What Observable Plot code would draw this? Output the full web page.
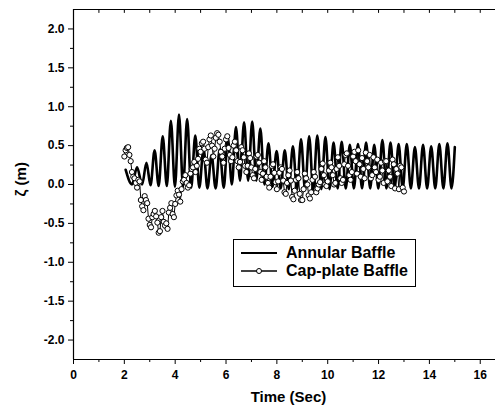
<!DOCTYPE html>
<html><head><meta charset="utf-8">
<script src="https://cdn.jsdelivr.net/npm/d3@7"></script>
<script src="https://cdn.jsdelivr.net/npm/@observablehq/plot@0.6"></script>
<style>body{margin:0;background:#fff}#chart{width:497px;height:412px}</style>
</head><body><div id="chart"></div>
<script>
// ---- data ----
const xMajor = [0, 2, 4, 6, 8, 10, 12, 14, 16];
const xMinor = [1, 3, 5, 7, 9, 11, 13, 15];
const yMajor = [-2.0, -1.5, -1.0, -0.5, 0.0, 0.5, 1.0, 1.5, 2.0];
const yMinor = [-1.75, -1.25, -0.75, -0.25, 0.25, 0.75, 1.25, 1.75];
const seriesNames = ["Annular Baffle", "Cap-plate Baffle"];

// Annular baffle: successive extremes of the oscillation
const annularT = [2.05, 2.30, 2.50, 2.70, 2.87, 3.03, 3.19, 3.35, 3.51, 3.67, 3.83, 3.99, 4.15, 4.31, 4.47, 4.63, 4.79, 4.95, 5.11, 5.27, 5.43, 5.59, 5.75, 5.91, 6.07, 6.23, 6.39, 6.55, 6.71, 6.87, 7.03, 7.19, 7.35, 7.51, 7.67, 7.83, 7.99, 8.15, 8.31, 8.47, 8.63, 8.79, 8.95, 9.11, 9.27, 9.43, 9.59, 9.75, 9.91, 10.07, 10.23, 10.39, 10.55, 10.71, 10.87, 11.03, 11.19, 11.35, 11.51, 11.67, 11.83, 11.99, 12.15, 12.31, 12.47, 12.63, 12.79, 12.95, 13.11, 13.27, 13.43, 13.59, 13.75, 13.91, 14.07, 14.23, 14.39, 14.55, 14.71, 14.87, 15.00];
const annularV = [0.19, 0.00, 0.22, 0.00, 0.28, -0.01, 0.44, -0.02, 0.62, -0.02, 0.82, -0.03, 0.90, -0.03, 0.84, -0.04, 0.63, -0.04, 0.45, -0.05, 0.38, -0.05, 0.45, -0.04, 0.60, 0.00, 0.74, 0.05, 0.80, 0.05, 0.81, 0.05, 0.72, 0.00, 0.53, -0.03, 0.43, -0.05, 0.44, -0.06, 0.49, -0.07, 0.58, -0.07, 0.62, -0.07, 0.63, -0.06, 0.61, -0.06, 0.54, -0.05, 0.55, -0.05, 0.51, -0.05, 0.52, -0.05, 0.54, -0.05, 0.51, -0.05, 0.57, -0.05, 0.54, -0.05, 0.52, -0.05, 0.52, -0.05, 0.48, -0.05, 0.51, -0.05, 0.49, -0.05, 0.52, -0.05, 0.53, -0.05, 0.48];

// Cap-plate baffle: sampled points (open circles), two interleaved readings
const capT1 = [2.0, 2.1, 2.2, 2.3, 2.4, 2.5, 2.6, 2.7, 2.8, 2.9, 3.0, 3.1, 3.2, 3.3, 3.4, 3.5, 3.6, 3.7, 3.8, 3.9, 4.0, 4.1, 4.2, 4.3, 4.4, 4.5, 4.6, 4.7, 4.8, 4.9, 5.0, 5.1, 5.2, 5.3, 5.4, 5.5, 5.6, 5.7, 5.8, 5.9, 6.0, 6.1, 6.2, 6.3, 6.4, 6.5, 6.6, 6.7, 6.8, 6.9, 7.0, 7.1, 7.2, 7.3, 7.4, 7.5, 7.6, 7.7, 7.8, 7.9, 8.0, 8.1, 8.2, 8.3, 8.4, 8.5, 8.6, 8.7, 8.8, 8.9, 9.0, 9.1, 9.2, 9.3, 9.4, 9.5, 9.6, 9.7, 9.8, 9.9, 10.0, 10.1, 10.2, 10.3, 10.4, 10.5, 10.6, 10.7, 10.8, 10.9, 11.0, 11.1, 11.2, 11.3, 11.4, 11.5, 11.6, 11.7, 11.8, 11.9, 12.0, 12.1, 12.2, 12.3, 12.4, 12.5, 12.6, 12.7, 12.8, 12.9, 13.0];
const capV1 = [0.36, 0.47, 0.38, 0.16, 0.08, -0.04, 0.04, -0.28, -0.15, -0.24, -0.52, -0.42, -0.34, -0.49, -0.60, -0.34, -0.53, -0.57, -0.30, -0.38, -0.25, -0.08, -0.22, 0.04, 0.12, -0.04, 0.14, 0.22, 0.16, 0.33, 0.42, 0.55, 0.32, 0.48, 0.63, 0.36, 0.60, 0.64, 0.42, 0.28, 0.58, 0.47, 0.30, 0.50, 0.44, 0.22, 0.48, 0.35, 0.16, 0.40, 0.22, 0.08, 0.36, 0.28, 0.06, 0.30, 0.10, -0.04, 0.24, 0.15, -0.06, 0.15, 0.20, -0.10, 0.02, 0.18, -0.16, -0.08, 0.16, -0.12, -0.20, 0.14, 0.00, -0.18, 0.06, 0.10, -0.05, 0.03, 0.27, 0.00, 0.04, 0.28, 0.12, 0.02, 0.35, 0.08, 0.06, 0.38, 0.24, 0.06, 0.36, 0.30, 0.44, 0.10, 0.20, 0.41, 0.22, 0.08, 0.35, 0.16, 0.06, 0.28, 0.02, 0.30, 0.18, -0.02, 0.26, 0.20, -0.06, 0.22, -0.09];
const capT2 = [2.05, 2.15, 2.25, 2.35, 2.45, 2.55, 2.65, 2.75, 2.85, 2.95, 3.05, 3.15, 3.25, 3.35, 3.45, 3.55, 3.65, 3.75, 3.85, 3.95, 4.05, 4.15, 4.25, 4.35, 4.45, 4.55, 4.65, 4.75, 4.85, 4.95, 5.05, 5.15, 5.25, 5.35, 5.45, 5.55, 5.65, 5.75, 5.85, 5.95, 6.05, 6.15, 6.25, 6.35, 6.45, 6.55, 6.65, 6.75, 6.85, 6.95, 7.05, 7.15, 7.25, 7.35, 7.45, 7.55, 7.65, 7.75, 7.85, 7.95, 8.05, 8.15, 8.25, 8.35, 8.45, 8.55, 8.65, 8.75, 8.85, 8.95, 9.05, 9.15, 9.25, 9.35, 9.45, 9.55, 9.65, 9.75, 9.85, 9.95, 10.05, 10.15, 10.25, 10.35, 10.45, 10.55, 10.65, 10.75, 10.85, 10.95, 11.05, 11.15, 11.25, 11.35, 11.45, 11.55, 11.65, 11.75, 11.85, 11.95, 12.05, 12.15, 12.25, 12.35, 12.45, 12.55, 12.65, 12.75, 12.85, 12.95];
const capV2 = [0.44, 0.48, 0.30, 0.10, 0.02, 0.06, -0.20, -0.33, -0.20, -0.44, -0.55, -0.38, -0.41, -0.62, -0.42, -0.48, -0.50, -0.36, -0.24, -0.42, -0.14, -0.13, -0.06, 0.06, 0.02, -0.01, 0.20, 0.29, 0.24, 0.46, 0.53, 0.46, 0.28, 0.58, 0.50, 0.46, 0.66, 0.55, 0.36, 0.46, 0.62, 0.38, 0.35, 0.55, 0.30, 0.29, 0.44, 0.24, 0.24, 0.34, 0.12, 0.20, 0.38, 0.16, 0.14, 0.22, 0.02, 0.10, 0.26, 0.03, 0.04, 0.22, 0.05, -0.12, 0.12, 0.05, -0.19, 0.06, 0.08, -0.20, -0.06, 0.08, -0.14, -0.10, 0.16, -0.10, 0.00, 0.20, 0.12, -0.02, 0.18, 0.22, 0.00, 0.20, 0.24, 0.02, 0.26, 0.40, 0.12, 0.16, 0.42, 0.14, 0.26, 0.34, 0.08, 0.30, 0.38, 0.12, 0.22, 0.32, 0.10, 0.18, 0.30, 0.04, 0.10, 0.32, -0.05, 0.14, 0.24, -0.04];

const annular = annularT.map((t, i) => ({t, v: annularV[i]}));
const cap = [...capT1.map((t, i) => ({t, v: capV1[i]})), ...capT2.map((t, i) => ({t, v: capV2[i]}))].sort((a, b) => a.t - b.t);
const xAll = [...xMajor, ...xMinor];

const font = "'Liberation Sans', Arial, sans-serif";
const chart = Plot.plot({
  width: 497, height: 412,
  marginLeft: 73, marginRight: 2, marginTop: 9, marginBottom: 53,
  style: {fontFamily: font, fontWeight: "bold", fontSize: "12px", background: "#fff", color: "#000"},
  x: {domain: [0, 16.6]},
  y: {domain: [-2.25, 2.25]},
  marks: [
    Plot.ruleY([-2.25, 2.25], {stroke: "#000", strokeWidth: 1.2}),
    Plot.ruleX([0], {stroke: "#000", strokeWidth: 1.2}),
    Plot.ruleX(xAll, {y1: 2.25, y2: 2.2, stroke: "#000"}),
    Plot.axisX({ticks: xMajor, tickSize: 5, tickPadding: 6, tickFormat: d => String(d), label: null}),
    Plot.axisX({ticks: xMinor, tickSize: 3, tickFormat: () => "", label: null}),
    Plot.axisY({ticks: yMajor, tickSize: 5, tickPadding: 4, tickFormat: d => d.toFixed(1), label: null}),
    Plot.axisY({ticks: yMinor, tickSize: 3, tickFormat: () => "", label: null}),
    Plot.line(annular, {x: "t", y: "v", curve: "monotone-x", stroke: "#000", strokeWidth: 2.6}),
    Plot.line(cap, {x: "t", y: "v", stroke: "#000", strokeWidth: 1}),
    Plot.dot(cap, {x: "t", y: "v", r: 2.6, fill: "#fff", stroke: "#000", strokeWidth: 1}),
    Plot.text(["Time (Sec)"], {frameAnchor: "bottom", dy: 42, dx: 4, fontSize: 15, fontWeight: "bold"}),
    Plot.text(["ζ (m)"], {frameAnchor: "left", rotate: -90, dx: -52, dy: 12, fontSize: 15, fontWeight: "bold"})
  ]
});
document.getElementById("chart").appendChild(chart);

const svg = d3.select(chart);
svg.selectAll("text").attr("font-weight", "bold").style("font-weight", "bold");

// legend
const lg = svg.append("g").attr("font-family", font).attr("font-weight", "bold").attr("font-size", 16).attr("text-anchor", "start");
lg.append("rect").attr("x", 233.5).attr("y", 239.5).attr("width", 182).attr("height", 47).attr("fill", "#fff").attr("stroke", "#000").attr("stroke-width", 1);
lg.append("line").attr("x1", 241).attr("x2", 277).attr("y1", 253).attr("y2", 253).attr("stroke", "#000").attr("stroke-width", 2.2);
lg.append("text").attr("x", 286).attr("y", 258).attr("text-anchor", "start").text(seriesNames[0]);
lg.append("line").attr("x1", 241).attr("x2", 277).attr("y1", 271).attr("y2", 271).attr("stroke", "#000").attr("stroke-width", 1.6);
lg.append("circle").attr("cx", 259).attr("cy", 271).attr("r", 2.5).attr("fill", "#fff").attr("stroke", "#000");
lg.append("text").attr("x", 286).attr("y", 276).attr("text-anchor", "start").text(seriesNames[1]);
</script></body></html>
